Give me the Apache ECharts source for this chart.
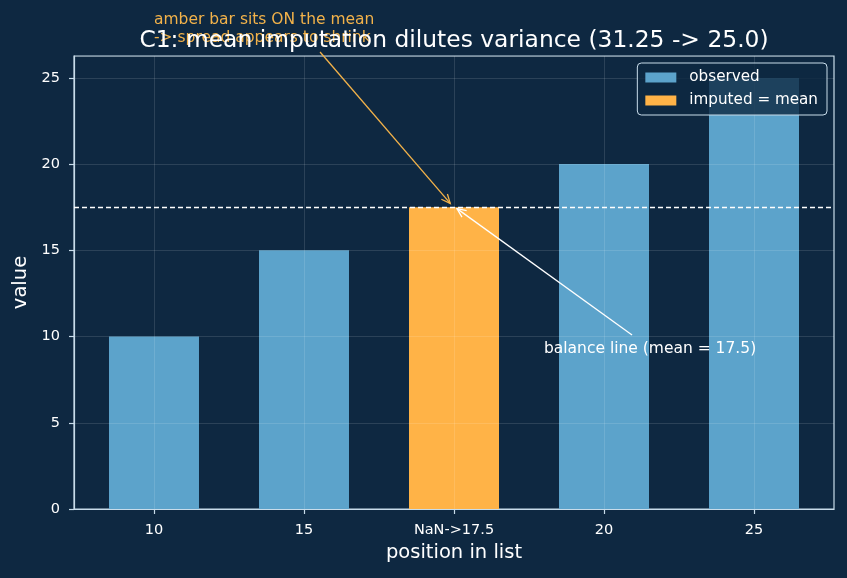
<!DOCTYPE html>
<html>
<head>
<meta charset="utf-8">
<script src="https://cdn.jsdelivr.net/npm/echarts@6/dist/echarts.min.js"></script>
<style>
  html, body { margin: 0; padding: 0; background: #0e2841; }
  #chart { width: 847px; height: 578px; }
</style>
</head>
<body>
<div id="chart"></div>
<script>
  // data
  var positions = [0, 1, 2, 3, 4];
  var tickLabels = ['10', '15', 'NaN->17.5', '20', '25'];
  var observed = [10, 15, null, 20, 25];
  var imputed = [null, null, 17.5, null, null];
  var meanValue = 17.5;

  // annotation anchors, in data coords
  var amberTextAt = [0, 27.85];
  var amberArrowFrom = [1.107, 26.5];
  var amberArrowTo = [1.975, 17.72];
  var whiteTextAt = [3.307, 9.28];
  var whiteArrowFrom = [3.187, 10.09];
  var whiteArrowTo = [2.02, 17.42];

  var fg = '#c8dcea';
  var font = 'DejaVu Sans';

  var obsData = [];
  var impData = [];
  positions.forEach(function (p, i) {
    if (observed[i] != null) obsData.push([p, observed[i]]);
    if (imputed[i] != null) impData.push([p, imputed[i]]);
  });

  var myChart = echarts.init(document.getElementById('chart'));
  myChart.setOption({
    backgroundColor: '#0e2841',
    animation: false,
    textStyle: { fontFamily: font },
    title: {
      text: 'C1: mean imputation dilutes variance (31.25 -> 25.0)',
      left: 449,
      top: 24,
      textAlign: 'center',
      z: 10,
      textStyle: { color: '#ffffff', fontSize: 23.4, fontWeight: 'normal', fontFamily: font }
    },
    legend: {
      orient: 'vertical',
      right: 20,
      top: 63,
      padding: [6, 9, 6, 8],
      itemGap: 6,
      itemWidth: 31,
      itemHeight: 10,
      icon: 'rect',
      borderColor: fg,
      borderWidth: 1,
      borderRadius: 4,
      backgroundColor: 'rgba(14,40,65,0.8)',
      textStyle: { color: '#ffffff', fontSize: 15.2, lineHeight: 17, padding: [0, 0, 0, 8], fontFamily: font },
      data: ['observed', 'imputed = mean']
    },
    grid: {
      left: 74,
      right: 13,
      top: 56,
      bottom: 69,
      show: true,
      borderColor: fg,
      borderWidth: 1.2,
      backgroundColor: 'transparent'
    },
    xAxis: {
      type: 'value',
      min: -0.5333,
      max: 4.5333,
      z: 3,
      name: 'position in list',
      nameLocation: 'middle',
      nameGap: 34,
      nameTextStyle: { color: '#ffffff', fontSize: 19.5, fontFamily: font },
      axisLine: { show: true, onZero: false, lineStyle: { color: fg, width: 1.2 } },
      axisTick: { show: true, length: 5, customValues: positions, lineStyle: { color: fg, width: 1.2 } },
      axisLabel: {
        customValues: positions,
        color: '#ffffff',
        fontSize: 14.5,
        margin: 14,
        formatter: function (v) { return tickLabels[Math.round(v)]; }
      },
      splitLine: { show: true, lineStyle: { color: 'rgba(255,255,255,0.12)', width: 1 } }
    },
    yAxis: {
      type: 'value',
      min: 0,
      max: 26.27,
      interval: 5,
      z: 3,
      name: 'value',
      nameLocation: 'middle',
      nameGap: 42,
      nameTextStyle: { color: '#ffffff', fontSize: 19.5, fontFamily: font },
      axisLine: { show: true, onZero: false, lineStyle: { color: fg, width: 1.2 } },
      axisTick: { show: true, length: 5, lineStyle: { color: fg, width: 1.2 } },
      axisLabel: {
        color: '#ffffff',
        fontSize: 14.5,
        margin: 14,
        showMaxLabel: false,
        formatter: function (v) { return v <= 25 ? String(v) : ''; }
      },
      splitLine: { show: true, lineStyle: { color: 'rgba(255,255,255,0.12)', width: 1 } }
    },
    series: [
      {
        name: 'observed',
        type: 'bar',
        data: obsData,
        barWidth: 90,
        barGap: '-100%',
        itemStyle: { color: '#5ca3cb' },
        markLine: {
          silent: true,
          symbol: 'none',
          label: { show: false },
          lineStyle: { color: '#ffffff', type: [5, 3], width: 1.3 },
          data: [{ yAxis: meanValue }]
        }
      },
      {
        name: 'imputed = mean',
        type: 'bar',
        data: impData,
        barWidth: 90,
        barGap: '-100%',
        itemStyle: { color: '#ffb347' }
      }
    ]
  });

  function px(p) {
    return myChart.convertToPixel({ gridIndex: 0 }, p);
  }

  function arrow(from, to, color) {
    var a = px(from), b = px(to);
    var dx = b[0] - a[0], dy = b[1] - a[1];
    var len = Math.sqrt(dx * dx + dy * dy);
    var ux = dx / len, uy = dy / len;
    var hl = 9, hw = 4;
    var h1 = [b[0] - ux * hl - uy * hw, b[1] - uy * hl + ux * hw];
    var h2 = [b[0] - ux * hl + uy * hw, b[1] - uy * hl - ux * hw];
    return [
      { type: 'line', z: 20, shape: { x1: a[0], y1: a[1], x2: b[0], y2: b[1] }, style: { stroke: color, lineWidth: 1.3 } },
      { type: 'polyline', z: 20, shape: { points: [h1, b, h2] }, style: { stroke: color, fill: null, lineWidth: 1.3 } }
    ];
  }

  var amberPos = px(amberTextAt);
  var whitePos = px(whiteTextAt);
  var elements = [
    {
      type: 'text',
      z: 1,
      x: amberPos[0],
      y: amberPos[1],
      style: {
        text: 'amber bar sits ON the mean\n-> spread appears to shrink',
        fill: '#f2b24a',
        font: '15.5px "DejaVu Sans"',
        lineHeight: 18,
        align: 'left',
        verticalAlign: 'middle'
      }
    },
    {
      type: 'text',
      z: 20,
      x: whitePos[0],
      y: whitePos[1],
      style: {
        text: 'balance line (mean = 17.5)',
        fill: '#ffffff',
        font: '15.5px "DejaVu Sans"',
        align: 'center',
        verticalAlign: 'middle'
      }
    }
  ].concat(arrow(amberArrowFrom, amberArrowTo, '#f2b24a'))
   .concat(arrow(whiteArrowFrom, whiteArrowTo, '#ffffff'));

  myChart.setOption({ graphic: { elements: elements } });
</script>
</body>
</html>
